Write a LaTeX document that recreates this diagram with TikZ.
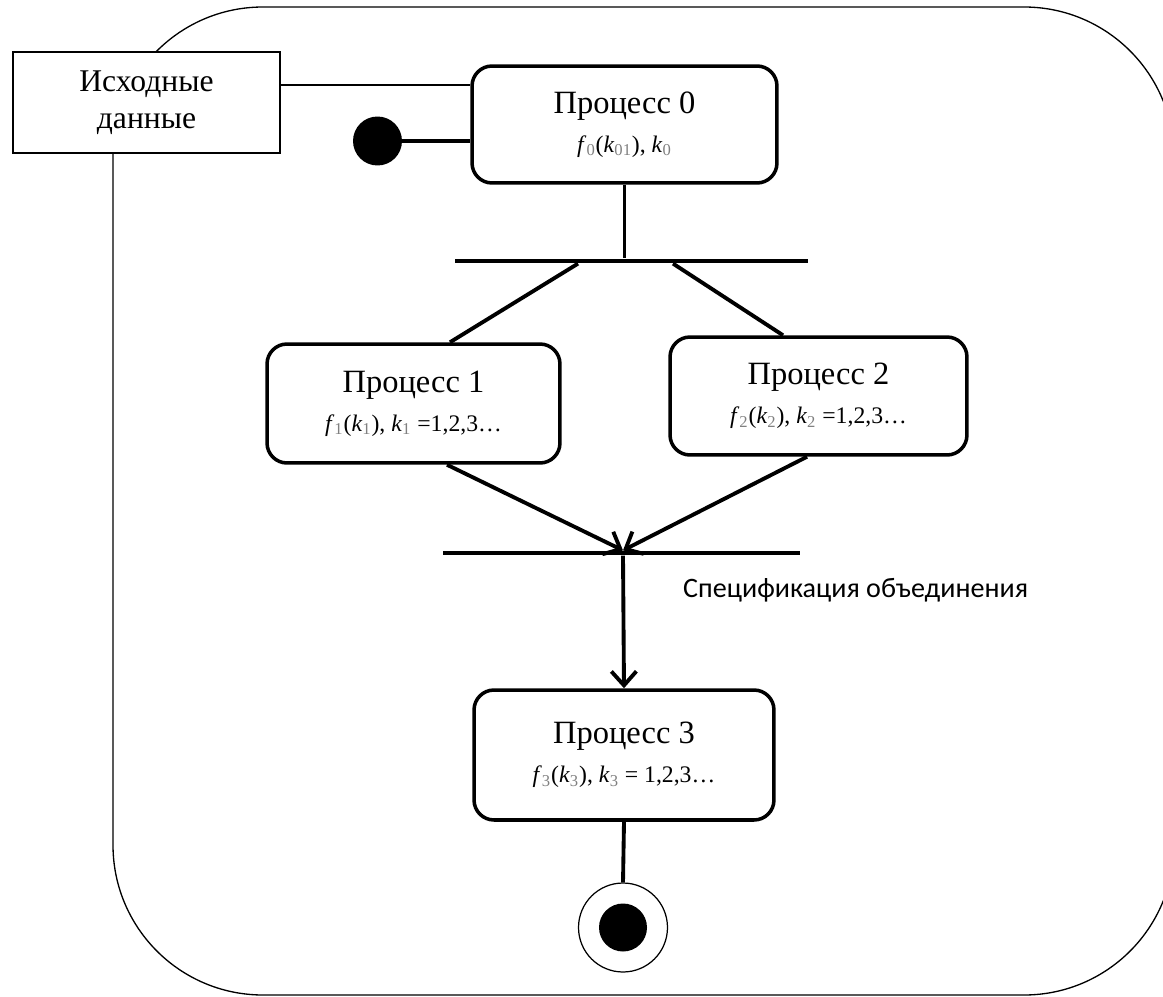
\documentclass[tikz,border=0pt]{standalone}
\usepackage{fontspec}
\setmainfont{Liberation Serif}
\newfontfamily\specfont{Carlito}
\usetikzlibrary{arrows.meta}

% italic letter with a grey index
\newcommand{\fv}[2]{\textit{#1}\textsubscript{\textcolor{gray}{#2}}}

\tikzset{
  process/.style={draw, line width=2pt, rounded corners=0.4cm, align=center,
    inner sep=0pt, font=\fontsize{18.5}{21}\selectfont},
  datbox/.style={draw, fill=white, line width=0.8pt, align=center, inner sep=0pt,
    minimum width=5.34cm, minimum height=2.02cm, font=\fontsize{18}{21}\selectfont},
  bar/.style={fill=black, inner sep=0pt, minimum height=0.09cm},
  flow/.style={line width=2.2pt},
  link/.style={line width=0.6pt},
  frame/.style={line width=0.75pt, rounded corners=3cm}
}

\begin{document}
\begin{tikzpicture}[x=0.02cm, y=-0.02cm, >={Straight Barb[length=0.28cm,width=0.5cm]}]

\useasboundingbox (0,0) rectangle (1163,997);
\clip (0,0) rectangle (1163,997);

% outer region
\draw [frame] (113,7) rectangle (1174,995);

\node [datbox] (data) at (146.5,102.5) {Исходные\\данные};

\foreach \m/\pos/\w/\h/\f in {
    0/{624.5,124.5}/6.1/2.34/{\fv{f}{0}(\fv{k}{01}), \fv{k}{0}},
    1/{413.5,403.5}/5.86/2.38/{\fv{f}{1}(\fv{k}{1}), \fv{k}{1} =1,2,3\ldots},
    2/{818.5,396}/5.94/2.36/{\fv{f}{2}(\fv{k}{2}), \fv{k}{2} =1,2,3\ldots},
    3/{624,755}/6.0/2.6/{\fv{f}{3}(\fv{k}{3}), \fv{k}{3} = 1,2,3\ldots}}
  \node [process, minimum width=\w cm, minimum height=\h cm] (proc-\m) at (\pos)
    {Процесс \m\\[1pt] {\fontsize{13.5}{15}\selectfont \f}};

% fork and join bars
\node [bar, minimum width=7.06cm] (fork) at (631.5,261) {};
\node [bar, minimum width=7.14cm] (join) at (621.5,553) {};

% start and end states
\node [circle, fill=black, inner sep=0pt, minimum size=0.98cm] (start) at (377.5,141) {};
\node [circle, draw, line width=0.7pt, inner sep=0pt, minimum size=1.78cm,
  path picture={\fill (path picture bounding box.center) circle (0.48cm);}] (end) at (623,927.5) {};

\coordinate (data-out) at ([yshift=0.35cm]data.east);
\draw [link] (data-out) -- (data-out -| proc-0.west);
\draw [flow] (start) -- (start -| proc-0.west);

\draw [flow] (proc-0.south) -- (proc-0.south |- fork.north);
\draw [flow] ([xshift=-1.07cm]fork.south) -- ([xshift=0.73cm]proc-1.north);
\draw [flow] ([xshift=0.83cm]fork.south) -- ([xshift=-0.71cm]proc-2.north);

\draw [flow,->] ([xshift=0.67cm]proc-1.south) -- ([xshift=0.03cm]join.north);
\draw [flow,->] ([xshift=-0.23cm]proc-2.south) -- ([xshift=0.03cm]join.north);

\draw [flow,->] ([xshift=0.03cm]join.south) -- (proc-3.north);
\node [font=\specfont\fontsize{16}{19}\selectfont, anchor=west] (spec) at (677,590)
  {Спецификация объединения};

\draw [flow] (proc-3.south) -- (end.north);

\end{tikzpicture}
\end{document}
